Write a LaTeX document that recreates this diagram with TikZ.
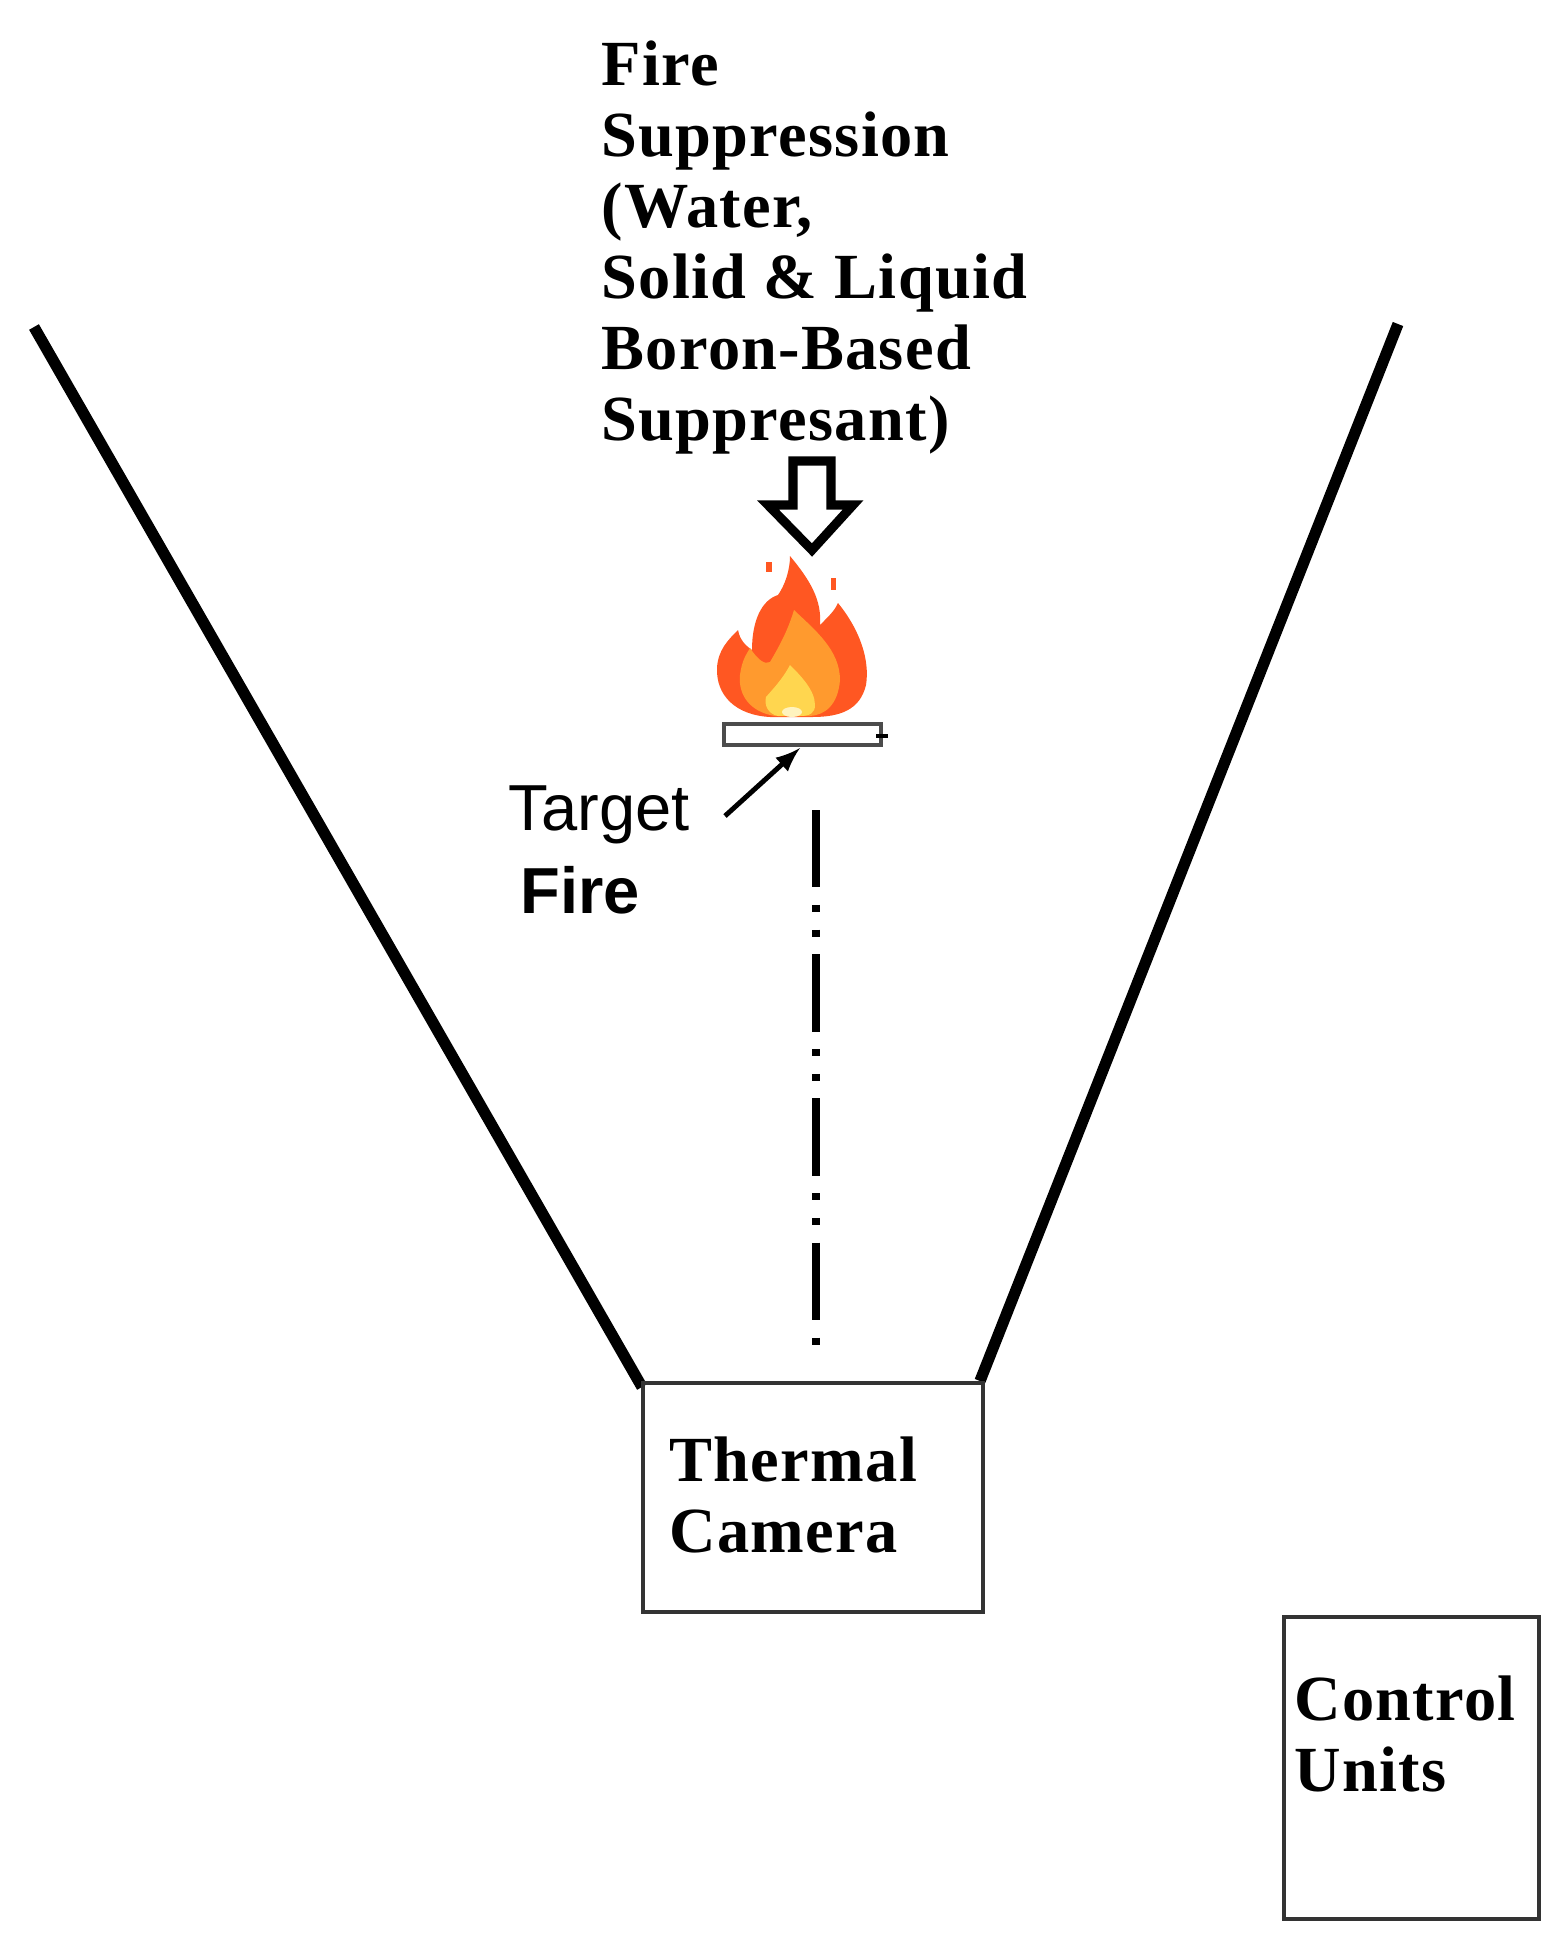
\documentclass[tikz,border=0pt]{standalone}
\usepackage{fontspec}
\setmainfont{Liberation Serif}[LetterSpace=2]
\newfontfamily\sansf{Liberation Sans}
\definecolor{fireA}{RGB}{255,87,34}
\definecolor{fireB}{RGB}{255,154,46}
\definecolor{fireC}{RGB}{255,214,79}
\definecolor{fireD}{RGB}{255,243,190}
\begin{document}
\begin{tikzpicture}[x=0.01cm,y=-0.01cm,
  lbl/.style={anchor=north west,align=left,inner sep=0pt,font=\bfseries\fontsize{18.3}{20.2}\selectfont},
  box/.style={draw=black!80,line width=1.3pt}]
\useasboundingbox (0,0) rectangle (1558,1947);
% view lines
\coordinate (l1) at (34,327); \coordinate (l2) at (642,1387);
\coordinate (r1) at (1398,324); \coordinate (r2) at (980,1381);
\draw[line width=3.2pt] (l1) -- (l2);
\draw[line width=3.2pt] (r1) -- (r2);
% boxes
\draw[box] (643,1383) rectangle (983,1612);
\draw[box] (1284,1617) rectangle (1539,1919);
\node[lbl] (cam) at (669,1436) {Thermal\\Camera};
\node[lbl] (ctl) at (1294,1675) {Control\\Units};
\node[lbl] (sup) at (601,40) {Fire\\Suppression\\(Water,\\Solid \& Liquid\\Boron-Based\\Suppresant)};
% big outline arrow
\draw[line width=2.6pt,fill=white,line join=miter]
  (793,461) -- (831,461) -- (831,505) -- (853,505) -- (812,550) -- (768,505) -- (793,505) -- cycle;
% fire
\fill[fireA]
  (790,556) .. controls (810,580) and (822,600) .. (820,625)
  .. controls (830,615) and (835,610) .. (838,603)
  .. controls (860,630) and (870,660) .. (866,685)
  .. controls (860,710) and (840,717) .. (812,717)
  -- (770,717) .. controls (735,715) and (716,695) .. (717,668)
  .. controls (718,650) and (728,640) .. (738,630)
  .. controls (740,640) and (745,645) .. (752,650)
  .. controls (752,620) and (762,600) .. (778,595)
  .. controls (785,585) and (790,570) .. cycle;
\fill[fireA] (766,562) rectangle (772,572);
\fill[fireA] (831,578) rectangle (836,590);
\fill[fireB]
  (794,610) .. controls (815,630) and (840,650) .. (840,680)
  .. controls (838,705) and (825,715) .. (810,716)
  -- (775,716) .. controls (750,712) and (738,695) .. (740,675)
  .. controls (742,660) and (746,655) .. (750,648)
  .. controls (758,660) and (765,665) .. (770,662)
  .. controls (780,645) and (788,630) .. cycle;
\fill[fireC]
  (790,665) .. controls (800,675) and (815,690) .. (815,705)
  .. controls (815,713) and (810,716) .. (800,716)
  -- (778,716) .. controls (768,714) and (764,705) .. (766,697)
  .. controls (772,690) and (782,680) .. cycle;
\fill[fireD] (792,712) ellipse (10 and 5);
% bar
\draw[line width=1.2pt,draw=black!70,fill=white] (724,724) rectangle (881,745);
\draw[line width=1pt] (876,736) -- (888,736);
% target label
\node[anchor=north west,inner sep=0pt,font=\sansf\fontsize{18.5}{22}\selectfont] (tgt) at (508,785) {Target};
\node[anchor=north west,inner sep=0pt,font=\sansf\bfseries\fontsize{18.5}{22}\selectfont] (tf) at (520,866) {Fire};
\coordinate (barpt) at (800,748);
\draw[line width=1.4pt,-latex] (725,816) -- (barpt);
% line of sight
\coordinate (s1) at (816,810); \coordinate (s2) at (816,1346);
\draw[line width=2.4pt,dash pattern=on 22pt off 5pt on 2pt off 5pt on 2pt off 5pt] (s1) -- (s2);
\end{tikzpicture}
\end{document}
